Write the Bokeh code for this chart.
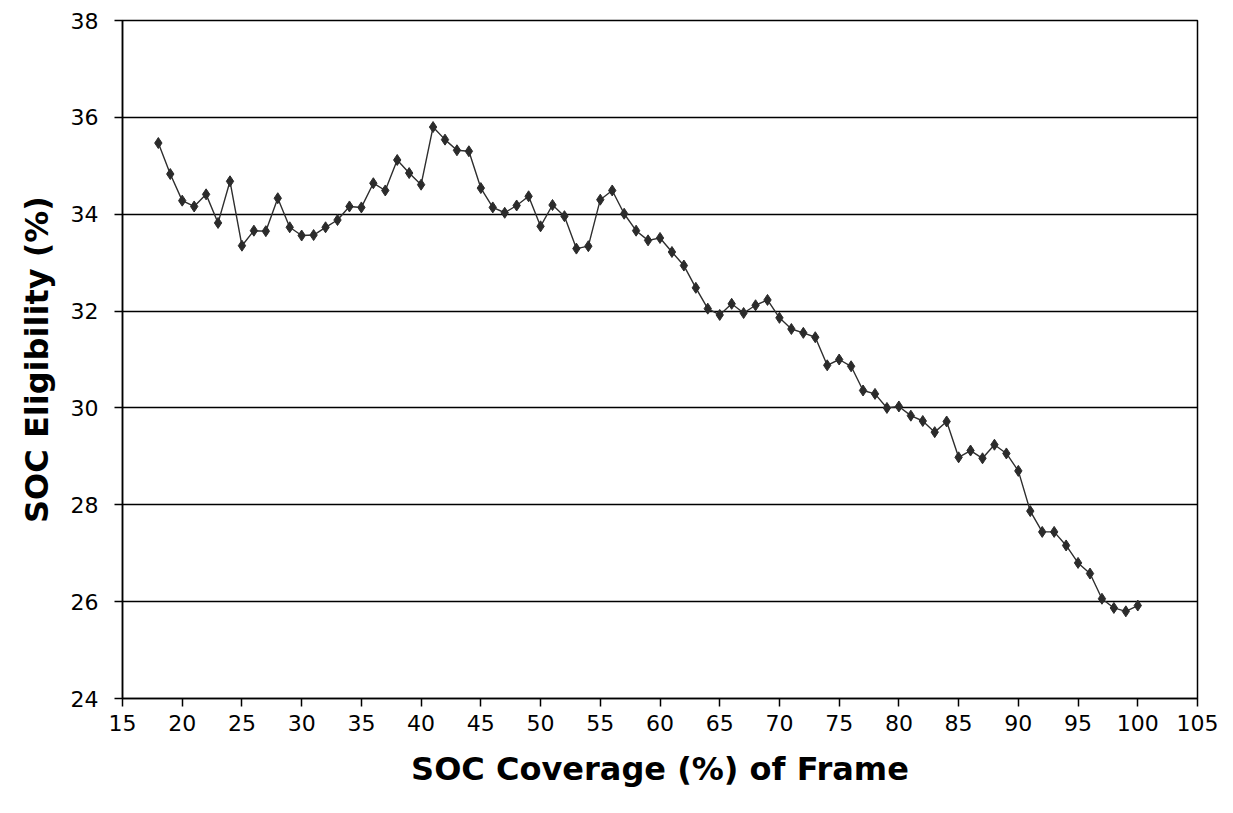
from bokeh.plotting import figure
from bokeh.models import FixedTicker, Range1d
from bokeh.embed import file_html
from bokeh.resources import INLINE

coverage = list(range(18, 101))
eligibility = [
    35.47, 34.83, 34.28, 34.16, 34.41, 33.82, 34.68, 33.35, 33.66, 33.65,
    34.33, 33.73, 33.56, 33.57, 33.73, 33.88, 34.16, 34.14, 34.64, 34.49,
    35.12, 34.85, 34.61, 35.80, 35.54, 35.32, 35.30, 34.54, 34.14, 34.03,
    34.18, 34.37, 33.75, 34.19, 33.96, 33.29, 33.34, 34.30, 34.49, 34.01,
    33.66, 33.46, 33.51, 33.22, 32.94, 32.48, 32.05, 31.92, 32.15, 31.96,
    32.12, 32.23, 31.86, 31.63, 31.55, 31.46, 30.88, 31.00, 30.86, 30.36,
    30.29, 30.00, 30.03, 29.84, 29.73, 29.50, 29.72, 28.98, 29.12, 28.96,
    29.24, 29.06, 28.70, 27.87, 27.44, 27.44, 27.16, 26.80, 26.58, 26.06,
    25.87, 25.80, 25.92,
]
x_ticks = list(range(15, 106, 5))
y_ticks = list(range(24, 39, 2))

W, H = 1225, 800
FW, FH = 1075, 678
L, T = 122, 20
p = figure(width=W, height=H, frame_width=FW, frame_height=FH,
           output_backend="svg", toolbar_location=None,
           x_range=Range1d(15, 105), y_range=Range1d(24, 38))
p.min_border_left = L
p.min_border_top = T
p.min_border_right = W - L - FW
p.min_border_bottom = H - T - FH
p.background_fill_color = "white"
p.border_fill_color = "white"
p.outline_line_color = "black"
p.outline_line_width = 1.5

p.line(coverage, eligibility, line_color="#2e2e2e", line_width=1.4)
p.scatter(coverage, eligibility, marker="diamond", size=11,
          fill_color="#2b2b2b", line_color="#2b2b2b")

p.xgrid.visible = False
p.ygrid.grid_line_color = "black"
p.ygrid.grid_line_width = 1.5

for ax in (p.xaxis[0], p.yaxis[0]):
    ax.axis_line_color = "black"
    ax.axis_line_width = 1.5
    ax.major_tick_line_color = "black"
    ax.major_tick_line_width = 1.5
    ax.major_tick_out = 8
    ax.major_tick_in = 0
    ax.minor_tick_line_color = None
    ax.major_label_text_font = "DejaVu Sans"
    ax.major_label_text_font_size = "22px"
    ax.major_label_text_color = "black"
    ax.axis_label_text_font = "DejaVu Sans"
    ax.axis_label_text_font_style = "bold"
    ax.axis_label_text_font_size = "32px"
    ax.axis_label_text_color = "black"

p.xaxis[0].ticker = FixedTicker(ticks=x_ticks)
p.yaxis[0].ticker = FixedTicker(ticks=y_ticks)
p.xaxis[0].axis_label = "SOC Coverage (%) of Frame"
p.yaxis[0].axis_label = "SOC Eligibility (%)"
p.xaxis[0].major_label_standoff = 8
p.xaxis[0].axis_label_standoff = 16
p.yaxis[0].major_label_standoff = 16
p.yaxis[0].axis_label_standoff = 12

open("out.html", "w").write(file_html(p, INLINE))
